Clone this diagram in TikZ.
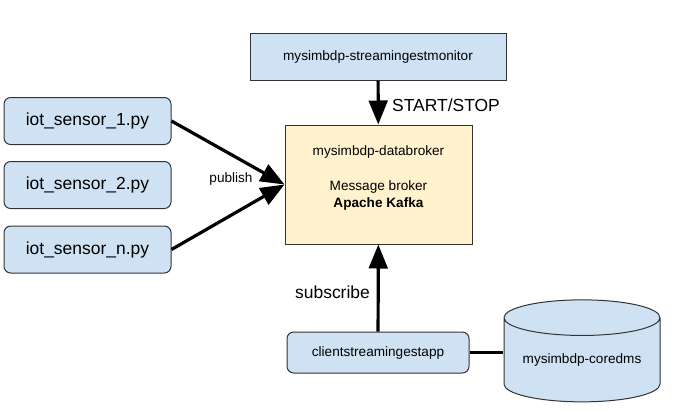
\documentclass[tikz,border=0pt]{standalone}
\usepackage{fontspec}
\setmainfont{Liberation Sans}
\usepackage{xcolor}
\usetikzlibrary{arrows.meta,shapes.geometric}
\definecolor{boxblue}{HTML}{CFE2F3}
\definecolor{topblue}{HTML}{DCE9F6}
\definecolor{boxyellow}{HTML}{FFF2CC}
\definecolor{edgegray}{HTML}{333333}

\begin{document}
\begin{tikzpicture}[x=0.75pt, y=-0.75pt,
  bluebox/.style = {draw=edgegray, fill=boxblue, line width=0.75pt, inner sep=0pt},
  sensorbox/.style = {bluebox, rounded corners=5pt, minimum width=125.25pt, minimum height=35.25pt, font=\fontsize{13.1}{15}\selectfont},
  smalltext/.style = {font=\fontsize{10.2}{12.75}\selectfont},
  bigtext/.style = {font=\fontsize{13.1}{15}\selectfont},
  flow/.style = {line width=2.4pt, -{Triangle[length=18pt, width=14pt]}}]
\useasboundingbox (0,0) rectangle (676,412);
% boxes
\node[bluebox, smalltext, minimum width=192pt, minimum height=35.25pt] (monitor) at (378,56.5) {mysimbdp-streamingestmonitor};
\node[sensorbox] (sensorA) at (87.5,121) {iot\_sensor\_1.py};
\node[sensorbox] (sensorB) at (87.5,185) {iot\_sensor\_2.py};
\node[sensorbox] (sensorN) at (87.5,249.5) {iot\_sensor\_n.py};
\node[draw=edgegray, fill=boxyellow, line width=0.75pt, minimum width=140.25pt, minimum height=89.25pt] (broker) at (378.5,184.5) {};
\node[smalltext, align=center, anchor=north, inner sep=0pt] (brokertext) at (378.5,145) {mysimbdp-databroker\\[13.5pt] Message broker\\ \textbf{Apache Kafka}};
\node[bluebox, smalltext, rounded corners=5pt, minimum width=136.5pt, minimum height=30.75pt] (client) at (378,352.5) {clientstreamingestapp};
\node[cylinder, shape border rotate=90, aspect=0.3, draw=edgegray, line width=0.75pt, fill=boxblue, cylinder uses custom fill, cylinder body fill=boxblue, cylinder end fill=topblue, minimum width=117pt, minimum height=76.5pt, inner sep=0pt, smalltext] (coredms) at (582,360) {mysimbdp-coredms};
% connectors
\draw[flow] (monitor) -- (broker);
\node[bigtext] (startstop) at (446,105) {START/STOP};
\draw[flow] (sensorA.east) -- (broker.west);
\draw[flow] (sensorN.east) -- (broker.west);
\node[smalltext] (publish) at (231,179) {publish};
\draw[flow] (client) -- (broker);
\node[bigtext] (subscribe) at (332.5,292) {subscribe};
\draw[line width=2.4pt] (client.east) -- (client.east -| coredms.west);
\end{tikzpicture}
\end{document}
